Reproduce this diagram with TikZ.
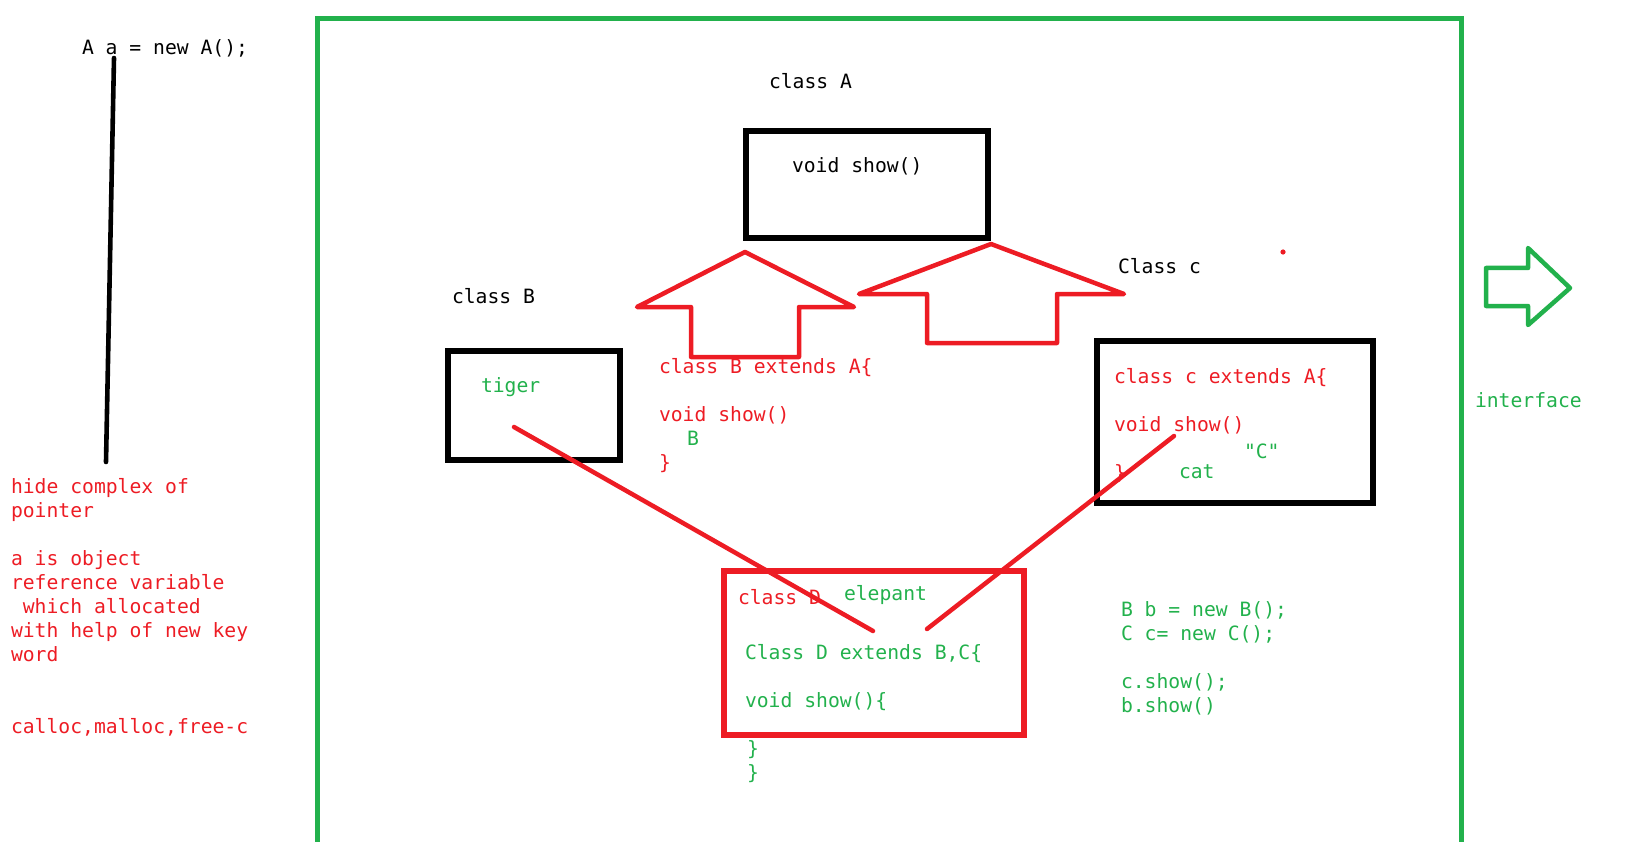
\documentclass[tikz,border=0pt]{standalone}
\usepackage{fontspec}
\newfontfamily\codefont{DejaVu Sans Mono}
\definecolor{pred}{HTML}{ED1C24}
\definecolor{pgreen}{HTML}{22B14C}
\tikzset{
  code/.style={font=\codefont\fontsize{19.7}{24}\selectfont, anchor=base west, inner sep=0pt, outer sep=0pt},
  rcode/.style={code, text=pred},
  gcode/.style={code, text=pgreen},
  kcode/.style={code, text=black},
  bbox/.style={draw=black, line width=5.2pt, inner sep=0pt, outer sep=0pt},
  rbox/.style={draw=pred, line width=5.2pt, inner sep=0pt, outer sep=0pt},
  redline/.style={draw=pred, line width=4.5pt, line cap=round},
  bigarrow/.style={draw=pred, line width=4.5pt, line join=round},
}
\begin{document}
\begin{tikzpicture}[x=1pt,y=-1pt]
\useasboundingbox (0,0) rectangle (1651,842);

% green frame (open at bottom)
\draw[pgreen, line width=5pt] (317,842) -- (317,19) -- (1461,19) -- (1461,842);

% left column
\node[kcode] (decl) at (82,55) {A a = new A();};
\coordinate (ptop) at (114,58);
\coordinate (pbot) at (106,462);
\draw[black, line width=4.6pt, line cap=round] (ptop) -- (pbot);

\node[rcode] (l1) at (11,493) {hide complex of};
\node[rcode] (l2) at (11,517) {pointer};
\node[rcode] (l3) at (11,565) {a is object};
\node[rcode] (l4) at (11,589) {reference variable};
\node[rcode] (l5) at (11,613) {\phantom{x}which allocated};
\node[rcode] (l6) at (11,637) {with help of new key};
\node[rcode] (l7) at (11,661) {word};
\node[rcode] (l8) at (11,733) {calloc,malloc,free-c};

% class A
\node[kcode] (cA) at (769,89) {class A};
\node[bbox, minimum width=242pt, minimum height=107pt] (boxA) at (867,184.5) {};
\node[kcode] (showA) at (792,173) {void show()};

% arrows
\draw[bigarrow] (745,252) -- (854,307) -- (799,307) -- (799,357) -- (691,357) -- (691,307) -- (637,307) -- cycle;
\draw[bigarrow] (991,244) -- (1124,294) -- (1057,294) -- (1057,343) -- (927,343) -- (927,294) -- (859,294) -- cycle;

% class B
\node[kcode] (cB) at (452,303) {class B};
\node[bbox, minimum width=172pt, minimum height=109pt] (boxB) at (534,405.5) {};
\node[gcode] (tiger) at (481,392) {tiger};
\node[rcode] (bext) at (659,373) {class B extends A\{};
\node[rcode] (bshow) at (659,421) {void show()};
\node[gcode] (bB) at (687,445) {B};
\node[rcode] (bclose) at (659,469) {\}};

% class C
\node[kcode] (cC) at (1118,273) {Class c};
\fill[pred] (1283,252) circle (2.6pt);
\node[bbox, minimum width=276pt, minimum height=162pt] (boxC) at (1235,422) {};
\node[rcode] (cext) at (1114,383) {class c extends A\{};
\node[rcode] (cshow) at (1114,431) {void show()};
\node[gcode] (cq) at (1244,458) {"C"};
\node[rcode] (cclose) at (1114,479) {\}};
\node[gcode] (cat) at (1179,478) {cat};

% class D
\node[rbox, minimum width=300pt, minimum height=164pt] (boxD) at (874,653) {};
\node[rcode] (cD) at (738,604) {class D};
\node[gcode] (ele) at (844,600) {elepant};
\node[gcode] (dext) at (745,659) {Class D extends B,C\{};
\node[gcode] (dshow) at (745,707) {void show()\{};
\node[gcode] (dc1) at (747,755) {\}};
\node[gcode] (dc2) at (747,779) {\}};

% crossing red lines
\coordinate (tigerpt) at (514,427);
\coordinate (dleft) at (873,631);
\coordinate (cpt) at (1174,436);
\coordinate (dright) at (927,629);
\draw[redline] (tigerpt) -- (dleft);
\draw[redline] (cpt) -- (dright);

% right green code
\node[gcode] (g1) at (1121,616) {B b = new B();};
\node[gcode] (g2) at (1121,640) {C c= new C();};
\node[gcode] (g3) at (1121,688) {c.show();};
\node[gcode] (g4) at (1121,712) {b.show()};

% green arrow and interface
\draw[pgreen, line width=4.5pt, line join=round] (1486,268) -- (1528,268) -- (1528,248) -- (1570,288) -- (1528,325) -- (1528,306) -- (1486,306) -- cycle;
\node[gcode] (iface) at (1475,407) {interface};
\end{tikzpicture}
\end{document}
